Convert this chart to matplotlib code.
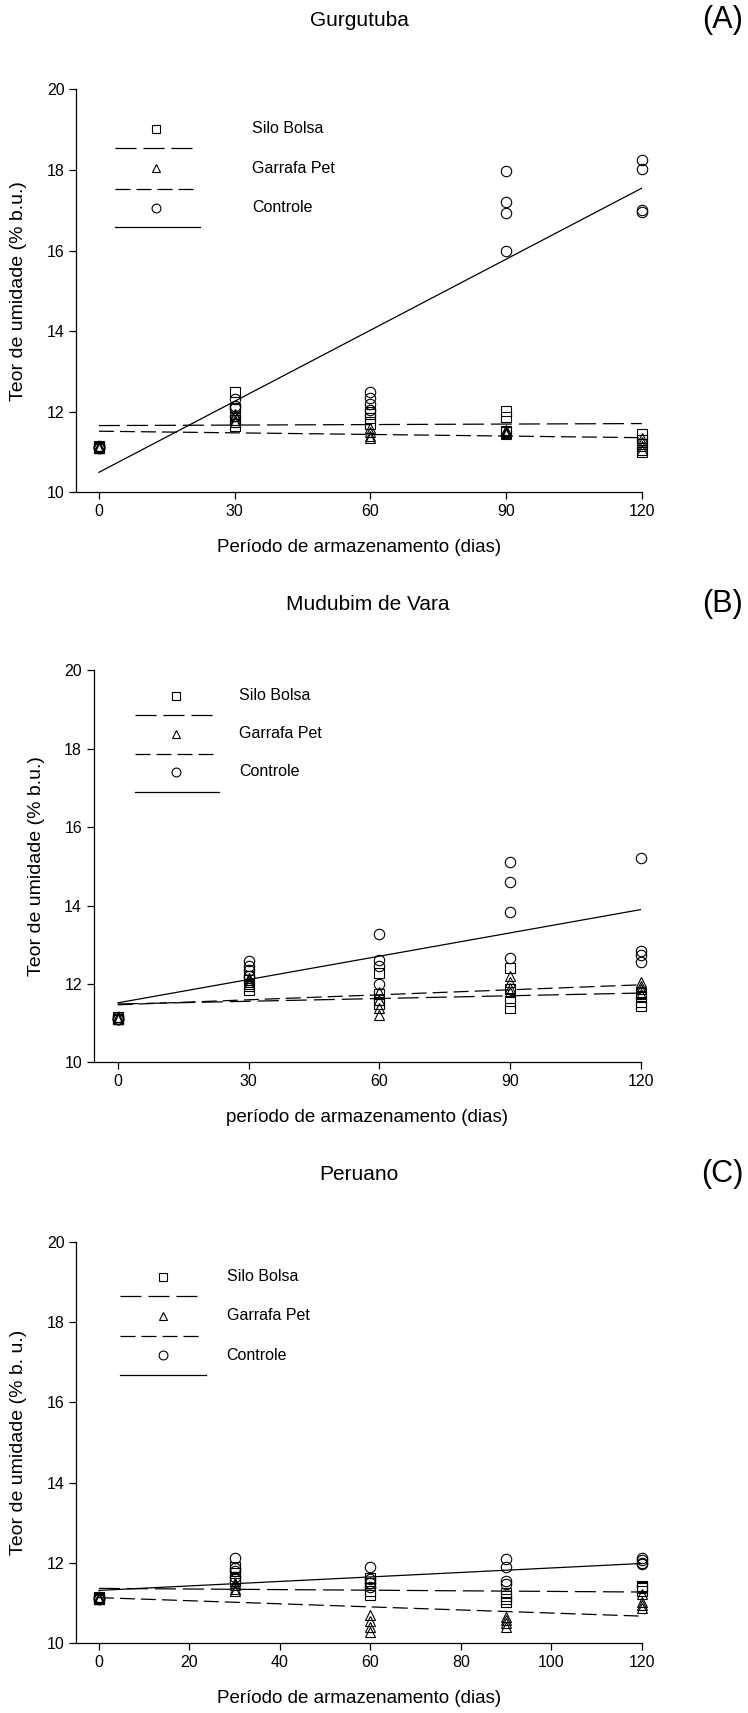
import matplotlib
matplotlib.use('Agg')
import matplotlib.pyplot as plt
from matplotlib.lines import Line2D

plt.rcParams['font.family'] = ['Liberation Sans', 'DejaVu Sans']

# dias de armazenamento
dias = [0, 30, 60, 90, 120]
fit_x = [0, 120]

# Gurgutuba (A)
gurg_silo = [[11.1, 11.12, 11.15, 11.1], [12.5, 12.1, 11.8, 11.65], [11.85, 11.95, 12.0, 11.7],
             [12.02, 11.88, 11.5, 11.52], [11.44, 11.2, 11.0, 11.3]]
gurg_pet = [[11.1, 11.12, 11.15, 11.1], [11.95, 11.8, 11.75, 11.9], [11.6, 11.5, 11.4, 11.35],
            [11.5, 11.48, 11.45, 11.55], [11.35, 11.15, 11.05, 11.25]]
gurg_controle = [[11.1, 11.12, 11.15, 11.1], [12.32, 12.15, 12.1, 11.9], [12.5, 12.35, 12.2, 12.05],
                 [17.97, 17.2, 16.93, 16.0], [18.25, 18.02, 17.0, 16.97]]
gurg_fit_silo = [11.66, 11.71]
gurg_fit_pet = [11.52, 11.36]
gurg_fit_controle = [10.5, 17.55]

# Mudubim de Vara (B)
mud_silo = [[11.1, 11.12, 11.15, 11.1], [12.2, 12.1, 11.95, 11.85], [12.27, 11.75, 11.6, 11.5],
            [12.4, 11.87, 11.57, 11.38], [11.78, 11.66, 11.53, 11.43]]
mud_pet = [[11.1, 11.12, 11.15, 11.1], [12.05, 12.1, 12.0, 12.15], [11.8, 11.6, 11.4, 11.2],
           [12.21, 12.04, 11.9, 11.8], [12.06, 11.96, 11.87, 11.74]]
mud_controle = [[11.1, 11.12, 11.15, 11.1], [12.58, 12.45, 12.35, 12.2], [13.28, 12.6, 12.45, 12.0],
                [15.12, 14.61, 13.83, 12.66], [15.22, 12.83, 12.74, 12.55]]
mud_fit_silo = [11.49, 11.77]
mud_fit_pet = [11.47, 11.98]
mud_fit_controle = [11.52, 13.9]

# Peruano (C)
per_silo = [[11.1, 11.12, 11.15, 11.1], [11.9, 11.75, 11.6, 11.55], [11.63, 11.5, 11.3, 11.2],
            [11.25, 11.17, 11.03, 11.1], [11.43, 11.37, 11.3, 11.4]]
per_pet = [[11.1, 11.12, 11.15, 11.1], [11.45, 11.35, 11.3, 11.5], [10.7, 10.55, 10.4, 10.28],
           [10.66, 10.58, 10.5, 10.41], [11.24, 11.03, 10.95, 10.87]]
per_controle = [[11.1, 11.12, 11.15, 11.1], [12.13, 11.88, 11.8, 11.65], [11.9, 11.5, 11.4, 11.6],
                [12.09, 11.9, 11.55, 11.47], [12.13, 12.08, 12.01, 11.97]]
per_fit_silo = [11.37, 11.28]
per_fit_pet = [11.14, 10.68]
per_fit_controle = [11.32, 11.99]

nomes = ['Silo Bolsa', 'Garrafa Pet', 'Controle']
marcadores = ['s', '^', 'o']
tamanhos = [7, 7.5, 7.5]
tracos = [(0, (16.8, 5.6)), (0, (12, 4.8)), '-']

paineis = [
    dict(ax=[0.102, 0.7125, 0.756, 0.2353], titulo='Gurgutuba', letra='(A)', ty=1 - 20 / 1713,
         series=[gurg_silo, gurg_pet, gurg_controle],
         fits=[gurg_fit_silo, gurg_fit_pet, gurg_fit_controle],
         xticks=[0, 30, 60, 90, 120], xlim=(-5, 120),
         xlabel='Período de armazenamento (dias)', ylabel='Teor de umidade (% b.u.)',
         leg_mx=0.141, leg_l0=0.068, leg_l1=[0.205, 0.209, 0.218], leg_tx=0.311,
         leg_y=[0.902, 0.854, 0.805, 0.753, 0.707, 0.659]),
    dict(ax=[0.1255, 0.3798, 0.7315, 0.2288], titulo='Mudubim de Vara', letra='(B)', ty=1 - 604 / 1713,
         series=[mud_silo, mud_pet, mud_controle],
         fits=[mud_fit_silo, mud_fit_pet, mud_fit_controle],
         xticks=[0, 30, 60, 90, 120], xlim=(-5.5, 120),
         xlabel='período de armazenamento (dias)', ylabel='Teor de umidade (% b.u.)',
         leg_mx=0.150, leg_l0=0.076, leg_l1=[0.218, 0.224, 0.228], leg_tx=0.265,
         leg_y=[0.936, 0.886, 0.838, 0.788, 0.741, 0.691]),
    dict(ax=[0.102, 0.0406, 0.756, 0.2346], titulo='Peruano', letra='(C)', ty=1 - 1174 / 1713,
         series=[per_silo, per_pet, per_controle],
         fits=[per_fit_silo, per_fit_pet, per_fit_controle],
         xticks=[0, 20, 40, 60, 80, 100, 120], xlim=(-5, 120),
         xlabel='Período de armazenamento (dias)', ylabel='Teor de umidade (% b. u.)',
         leg_mx=0.154, leg_l0=0.077, leg_l1=[0.216, 0.222, 0.230], leg_tx=0.266,
         leg_y=[0.913, 0.864, 0.815, 0.766, 0.717, 0.668]),
]

fig = plt.figure(figsize=(7.48, 17.13), dpi=100)

for p in paineis:
    ax = fig.add_axes(p['ax'])
    for serie, fit, m, ms, ls in zip(p['series'], p['fits'], marcadores, tamanhos, tracos):
        for x, vals in zip(dias, serie):
            ax.plot([x] * len(vals), vals, linestyle='none', marker=m, ms=ms,
                    mfc='none', mec='k', mew=0.8, clip_on=False)
        ax.plot(fit_x, fit, color='k', linestyle=ls, linewidth=0.9)

    ax.set_xlim(*p['xlim'])
    ax.set_ylim(10, 20)
    ax.set_xticks(p['xticks'])
    ax.set_yticks([10, 12, 14, 16, 18, 20])
    ax.tick_params(direction='out', length=5, width=0.9, labelsize=11.5)
    for s in ['top', 'right']:
        ax.spines[s].set_visible(False)
    for s in ['left', 'bottom']:
        ax.spines[s].set_linewidth(0.9)
    ax.spines['bottom'].set_bounds(p['xlim'][0], 120)
    ax.set_xlabel(p['xlabel'], fontsize=13.5, labelpad=14)
    ax.set_ylabel(p['ylabel'], fontsize=14, labelpad=14)

    # titulo e letra do painel
    cx = p['ax'][0] + p['ax'][2] / 2
    fig.text(cx, p['ty'], p['titulo'], ha='center', va='center', fontsize=15)
    fig.text(0.966, p['ty'], p['letra'], ha='center', va='center', fontsize=22)

    # legenda no estilo SigmaPlot (marcador em cima, linha embaixo)
    ly = p['leg_y']
    for i, (nome, m, ms, ls) in enumerate(zip(nomes, marcadores, tamanhos, tracos)):
        ax.add_line(Line2D([p['leg_mx']], [ly[2 * i]], transform=ax.transAxes, marker=m,
                           ms=ms * 0.85, mfc='none', mec='k', mew=0.8, linestyle='none'))
        ax.add_line(Line2D([p['leg_l0'], p['leg_l1'][i]], [ly[2 * i + 1]] * 2,
                           transform=ax.transAxes, color='k', linestyle=ls, linewidth=0.9))
        ax.text(p['leg_tx'], ly[2 * i], nome, transform=ax.transAxes, fontsize=11.5,
                va='center', ha='left')

fig.savefig('out.png', dpi=100)
